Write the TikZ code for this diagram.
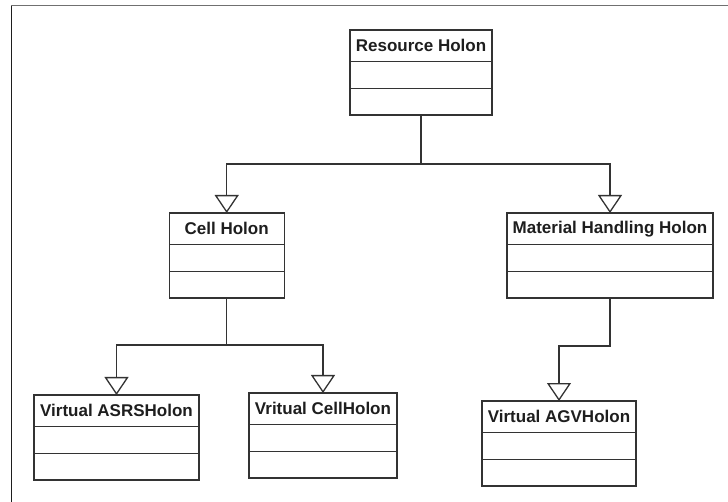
\documentclass[tikz,border=0pt]{standalone}
\usepackage{fontspec}
\setmainfont{Liberation Sans}
\usetikzlibrary{arrows.meta}
\definecolor{edge}{HTML}{333333}
\definecolor{framegray}{HTML}{707070}
\definecolor{ink}{HTML}{1E1E1E}
\begin{document}
\begin{tikzpicture}[x=1pt,y=-1pt,
  classhead/.style={draw=edge, line width=1.3pt, fill=white, inner sep=0pt, outer sep=0pt,
    minimum height=31.5pt, text=ink, font=\fontsize{17}{19}\selectfont\bfseries, anchor=north},
  classpart/.style={draw=edge, line width=1.3pt, fill=white, inner sep=0pt, outer sep=0pt,
    minimum height=26.7pt, anchor=north},
  link/.style={draw=edge, line width=1.3pt},
  inherit/.style={link, -{Triangle[width=24pt, length=18pt, fill=white]}}]

\useasboundingbox (0,0) rectangle (728,502);

% page frame (only the left and top edges are visible)
\draw[ink, line width=1pt] (11,5.5) -- (11,502);
\draw[framegray, line width=1.2pt] (11,5.5) -- (728,5.5);

% class boxes: header + two empty compartments
\newcommand\holonbox[5]{%
  \node[classhead, minimum width=#4] (#1) at (#2,#3) {#5};
  \node[classpart, minimum width=#4] (#1A) at (#1.south) {};
  \node[classpart, minimum width=#4] (#1B) at (#1A.south) {};
}

\holonbox{res}{421}{30}{142pt}{Resource Holon}
\holonbox{cell}{226.7}{213}{115pt}{Cell Holon}
\holonbox{mh}{610}{213}{206pt}{Material Handling Holon}
\holonbox{asrs}{116.5}{395}{165pt}{Virtual ASRSHolon}
\holonbox{vcell}{323}{393}{148pt}{Vritual CellHolon}
\holonbox{agv}{559}{401}{154pt}{Virtual AGVHolon}

% generalisation connectors
\draw[inherit] (resB.south) -- ++(0,49) -| (cell.north);
\draw[inherit] (resB.south) -- ++(0,49) -| (mh.north);

\draw[inherit] (cellB.south) -- ++(0,47) -| (asrs.north);
\draw[inherit] (cellB.south) -- ++(0,47) -| (vcell.north);

\draw[inherit] (mhB.south) -- ++(0,48) -| (agv.north);

\end{tikzpicture}
\end{document}
